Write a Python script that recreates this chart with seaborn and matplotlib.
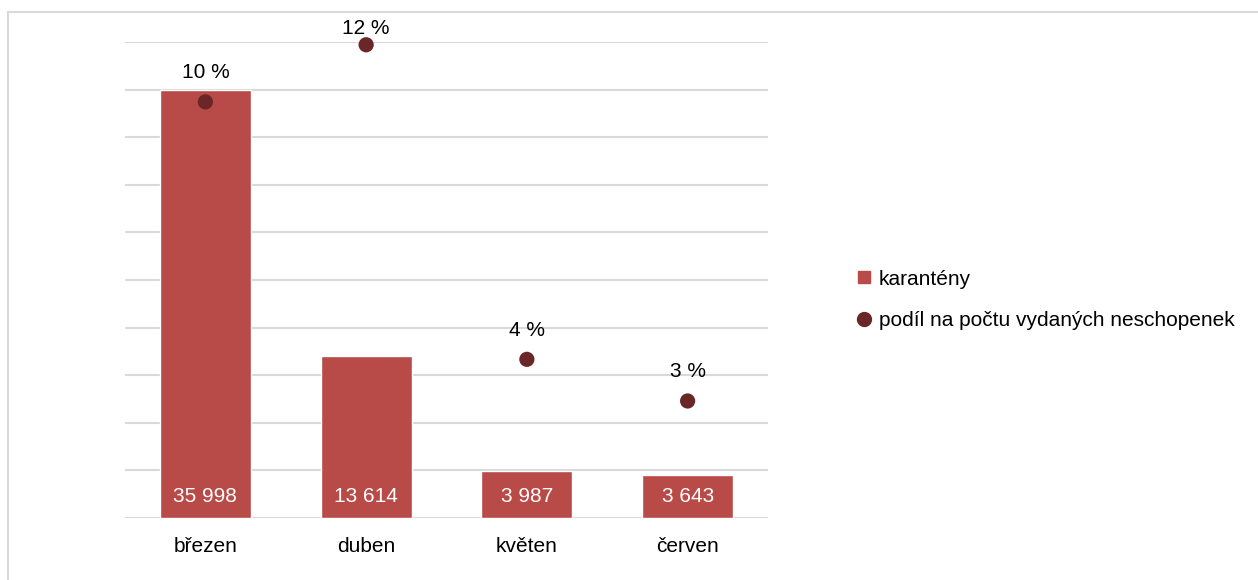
import matplotlib
matplotlib.use("Agg")
import matplotlib.pyplot as plt
from matplotlib.lines import Line2D
import seaborn as sns
import pandas as pd

months = ["březen", "duben", "květen", "červen"]
quarantines = [35998, 13614, 3987, 3643]
share = [0.1049, 0.1193, 0.040, 0.0295]

bar_color = "#B84A47"
dot_color = "#6B2628"
grid_color = "#D9D9D9"

sns.set_theme(style="white")
plt.rcParams["font.family"] = ["Liberation Sans", "DejaVu Sans"]
plt.rcParams["text.color"] = "#000000"

df = pd.DataFrame({"month": months, "count": quarantines, "share": share})

W, H = 1258, 580
fig = plt.figure(figsize=(W / 100, H / 100), dpi=100)
ax = fig.add_axes([125 / W, 1 - 518 / H, (768 - 125) / W, (518 - 42) / H])

sns.barplot(data=df, x="month", y="count", color=bar_color, saturation=1,
            width=0.565, ax=ax, zorder=2)
ax.set_ylim(0, 40000)
ax.set_xlim(-0.5, 3.5)
ax.set_yticks(range(0, 40001, 4000))
ax.yaxis.grid(True, color=grid_color, linewidth=1.5, zorder=0)
ax.set_axisbelow(True)
ax.set_xlabel("")
ax.set_ylabel("")
for s in ax.spines.values():
    s.set_visible(False)

for i, v in enumerate(quarantines):
    ax.text(i, 1000, f"{v:,}".replace(",", " "), ha="center", va="bottom",
            color="white", fontsize=15, zorder=3)

ax2 = ax.twinx()
sns.scatterplot(data=df, x="month", y="share", color=dot_color, s=120,
                edgecolor="none", ax=ax2, zorder=4)
for c in ax2.collections:
    c.set_clip_on(False)
ax2.set_ylim(0, 0.12)
ax2.set_xlim(-0.5, 3.5)
ax2.axis("off")

# twinx re-enables left ticks, so hide them afterwards
ax.tick_params(axis="y", left=False, labelleft=False, length=0)
ax.tick_params(axis="x", bottom=False, length=0, labelsize=15, pad=14,
               colors="#000000")

for i, v in enumerate(share):
    _, y_px = ax2.transData.transform((i, v))
    top_px = H - y_px
    gap = min(29, top_px - 29)
    ax2.annotate(f"{v * 100:.0f} %", (i, v), xytext=(0, gap * 0.72),
                 textcoords="offset points", ha="center", va="center",
                 fontsize=15, color="#000000")

handles = [
    Line2D([], [], marker="s", linestyle="none", color=bar_color, markersize=8),
    Line2D([], [], marker="o", linestyle="none", color=dot_color, markersize=10),
]
leg = fig.legend(handles, ["karantény", "podíl na počtu vydaných neschopenek"],
                 loc="center left", bbox_to_anchor=(835 / W, 1 - 300 / H),
                 frameon=False, fontsize=15, handletextpad=0.2,
                 labelspacing=1.1, handlelength=1.0)
for t in leg.get_texts():
    t.set_color("#000000")

# outer chart frame (left and top edges visible)
fig.add_artist(Line2D([8 / W, 8 / W], [0, 1 - 12 / H], color=grid_color,
                      linewidth=1.5, transform=fig.transFigure))
fig.add_artist(Line2D([8 / W, 1], [1 - 12 / H, 1 - 12 / H], color=grid_color,
                      linewidth=1.5, transform=fig.transFigure))

fig.savefig("out.png", dpi=100, facecolor="white")
